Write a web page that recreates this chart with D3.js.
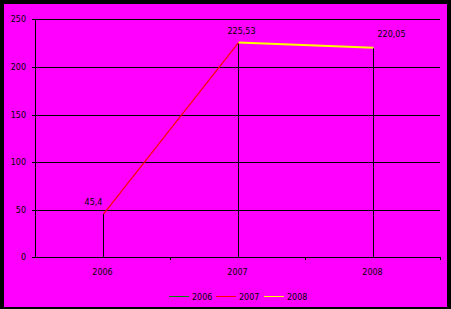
<!DOCTYPE html>
<html>
<head>
<meta charset="utf-8">
<script src="https://d3js.org/d3.v7.min.js"></script>
<style>
  body { margin: 0; background: #000; }
  text { font-family: "DejaVu Sans", Arial, sans-serif; font-size: 8px; fill: #000; }
  .crisp { shape-rendering: crispEdges; }
</style>
</head>
<body>
<div id="chart"></div>
<script>
const years = ["2006", "2007", "2008"];
const values = [45.4, 225.53, 220.05];
const valueLabels = ["45,4", "225,53", "220,05"];
const seriesColors = ["#008000", "#ff0000", "#ffff00"];
const yTicks = [0, 50, 100, 150, 200, 250];

const width = 451, height = 309;
const svg = d3.select("#chart").append("svg")
    .attr("width", width)
    .attr("height", height);

// black frame, magenta plot area
svg.append("rect").attr("width", width).attr("height", height).attr("fill", "#000");
svg.append("rect").attr("x", 4).attr("y", 4).attr("width", 443).attr("height", 303).attr("fill", "#ff00ff");

const plotLeft = 35, plotRight = 440, plotTop = 19.3, plotBottom = 257.3;

const x = d3.scaleBand().domain(years).range([plotLeft, plotRight]).padding(0);
const y = d3.scaleLinear().domain([0, 250]).range([plotBottom, plotTop]);

// horizontal gridlines with outside ticks
svg.selectAll(".grid")
    .data(yTicks)
    .enter()
    .append("line")
    .attr("class", "crisp")
    .attr("x1", plotLeft - 3)
    .attr("x2", plotRight)
    .attr("y1", d => Math.round(y(d)) + 0.5)
    .attr("y2", d => Math.round(y(d)) + 0.5)
    .attr("stroke", "#000")
    .attr("stroke-width", 1);

svg.selectAll(".ylab")
    .data(yTicks)
    .enter()
    .append("text")
    .attr("x", 26)
    .attr("y", d => y(d) + 3)
    .attr("text-anchor", "end")
    .text(d => d);

// y axis line
svg.append("line")
    .attr("class", "crisp")
    .attr("x1", plotLeft + 0.5).attr("x2", plotLeft + 0.5)
    .attr("y1", plotTop).attr("y2", plotBottom)
    .attr("stroke", "#000");

// x axis tick marks at band boundaries
svg.selectAll(".xtick")
    .data(years)
    .enter()
    .append("line")
    .attr("class", "crisp")
    .attr("x1", d => Math.round(x(d) + x.bandwidth()) + 0.5)
    .attr("x2", d => Math.round(x(d) + x.bandwidth()) + 0.5)
    .attr("y1", plotBottom)
    .attr("y2", plotBottom + 3)
    .attr("stroke", "#000");

svg.selectAll(".xlab")
    .data(years)
    .enter()
    .append("text")
    .attr("x", d => x(d) + x.bandwidth() / 2)
    .attr("y", 275)
    .attr("text-anchor", "middle")
    .text(d => d);

const cx = i => Math.round(x(years[i]) + x.bandwidth() / 2) + 0.5;

// drop lines
svg.selectAll(".drop")
    .data(values)
    .enter()
    .append("line")
    .attr("class", "crisp")
    .attr("x1", (d, i) => cx(i))
    .attr("x2", (d, i) => cx(i))
    .attr("y1", d => y(d))
    .attr("y2", plotBottom)
    .attr("stroke", "#000");

// segments: each ends at its own year, coloured by that year's series
const segs = values.slice(1).map((v, i) => ({ i: i + 1, from: values[i], to: v }));
svg.selectAll(".seg")
    .data(segs)
    .enter()
    .append("line")
    .attr("x1", d => cx(d.i - 1))
    .attr("x2", d => cx(d.i))
    .attr("y1", d => y(d.from))
    .attr("y2", d => y(d.to))
    .attr("stroke", d => seriesColors[d.i])
    .attr("stroke-width", d => d.i === 2 ? 2 : 1.2);

// value labels
const labelDx = [-10, 3, 18];
const labelDy = [-9, -9, -11];
svg.selectAll(".vlab")
    .data(values)
    .enter()
    .append("text")
    .attr("x", (d, i) => cx(i) + labelDx[i])
    .attr("y", (d, i) => y(d) + labelDy[i])
    .attr("text-anchor", "middle")
    .text((d, i) => valueLabels[i]);

// legend
const legendX = [169, 216, 264];
const lg = svg.selectAll(".legend")
    .data(years)
    .enter()
    .append("g")
    .attr("transform", (d, i) => `translate(${legendX[i]},296)`);
lg.append("line")
    .attr("class", "crisp")
    .attr("x1", 0).attr("x2", 20)
    .attr("y1", 0.5).attr("y2", 0.5)
    .attr("stroke", (d, i) => seriesColors[i])
    .attr("stroke-width", 1);
lg.append("text")
    .attr("x", 23)
    .attr("y", 3.5)
    .text(d => d);
</script>
</body>
</html>
